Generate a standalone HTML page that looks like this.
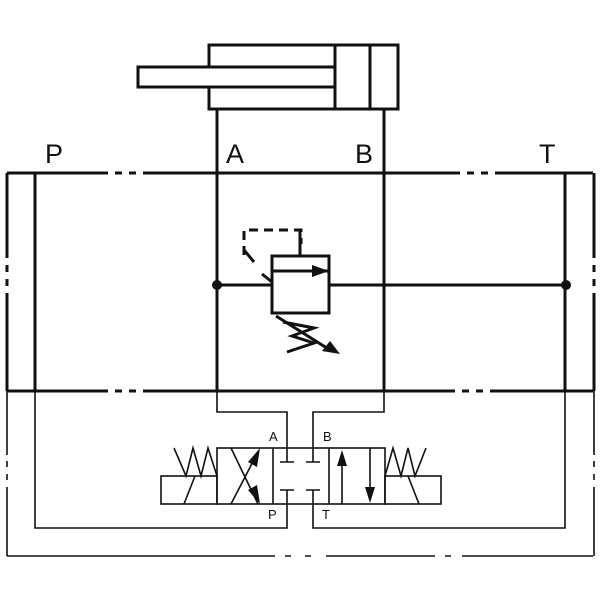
<!DOCTYPE html>
<html><head><meta charset="utf-8"><style>html,body{margin:0;padding:0;background:#fff}svg{display:block}text{font-family:"Liberation Sans",sans-serif;fill:#111}</style></head>
<body>
<svg width="600" height="600" viewBox="0 0 600 600" xmlns="http://www.w3.org/2000/svg">
<g stroke="#111" fill="none" stroke-width="3">
<!-- cylinder -->
<rect x="209" y="45" width="189" height="64"/>
<line x1="335" y1="45" x2="335" y2="109"/>
<line x1="370" y1="45" x2="370" y2="109"/>
<rect x="138" y="67" width="197" height="20" fill="#fff"/>
<line x1="217" y1="109" x2="217" y2="391"/>
<line x1="384" y1="109" x2="384" y2="391"/>
<!-- top line -->
<path d="M7 173 H108 M115 173 H122 M129 173 H136 M143 173 H460 M467 173 H474 M481 173 H488 M495 173 H593"/>
<path d="M7 391 H108 M115 391 H122 M129 391 H136 M143 391 H455 M462 391 H469 M476 391 H483 M490 391 H593"/>
<path d="M7 173 V258 M7 265 V272 M7 279 V286 M7 293 V391"/>
<path d="M594 173 V258 M594 265 V272 M594 279 V286 M594 293 V391"/>
<line x1="35" y1="173" x2="35" y2="391"/>
<line x1="565" y1="173" x2="565" y2="391"/>
<path d="M217 285 H272 M329 285 H566"/>
<!-- relief valve -->
<rect x="272" y="256" width="57" height="57"/>
<line x1="272" y1="271" x2="329" y2="271"/>
<path d="M300 230 V256" stroke-dasharray="0"/>
<path d="M244 255 V230 H301 V244" stroke-dasharray="9 6"/>
<line x1="244" y1="250" x2="254" y2="262"/>
<line x1="262" y1="274" x2="272" y2="282"/>
<path d="M283 322 L314 328 L292 336 L314 343 L287 352"/>
<line x1="276" y1="316" x2="330" y2="350"/>
</g>
<circle cx="217" cy="285" r="5" fill="#111"/>
<circle cx="566" cy="285" r="5" fill="#111"/>
<polygon points="329,271 312,265 312,277" fill="#111"/>
<polygon points="340,354 322,351 330,341" fill="#111"/>
<g stroke="#111" fill="none" stroke-width="1.6">
<path d="M7 391 V455 M7 461 V467 M7 474 V480 M7 487 V556"/>
<path d="M594 391 V455 M594 461 V467 M594 474 V480 M594 487 V556"/>
<path d="M7 556 H275 M285 556 H291 M305 556 H311 M326 556 H435 M445 556 H451 M462 556 H593"/>
<path d="M35 391 V528 H287 V490"/>
<path d="M565 391 V528 H313 V490"/>
<path d="M217 391 V412 H287 V462"/>
<path d="M384 391 V412 H313 V462"/>
<path d="M280 462 H294 M306 462 H320 M280 490 H294 M306 490 H320"/>
<rect x="217" y="448" width="168" height="56"/>
<line x1="273" y1="448" x2="273" y2="504"/>
<line x1="329" y1="448" x2="329" y2="504"/>
<rect x="161" y="476" width="56" height="28"/>
<rect x="385" y="476" width="56" height="28"/>
<line x1="184" y1="504" x2="195" y2="476"/>
<line x1="419" y1="504" x2="408" y2="476"/>
<path d="M174 448 L186 476 L193 448 L201 476 L208 448 L217 476"/>
<path d="M385 476 L393 448 L401 476 L408 448 L415 476 L426 448"/>
<line x1="231" y1="448" x2="258" y2="504"/>
<line x1="231" y1="504" x2="258" y2="452"/>
<line x1="342" y1="504" x2="342" y2="455"/>
<line x1="370" y1="448" x2="370" y2="497"/>
</g>
<polygon points="260,448 248,462 257,467" fill="#111"/>
<polygon points="260,504 248,490 257,485" fill="#111"/>
<polygon points="342,450 337,466 347,466" fill="#111"/>
<polygon points="370,503 365,487 375,487" fill="#111"/>
<text x="45" y="163" font-size="27">P</text>
<text x="226" y="163" font-size="27">A</text>
<text x="355" y="163" font-size="27">B</text>
<text x="539" y="163" font-size="27">T</text>
<text x="269" y="441" font-size="13">A</text>
<text x="323" y="441" font-size="13">B</text>
<text x="268" y="519" font-size="13">P</text>
<text x="322" y="519" font-size="13">T</text>
</svg>
</body></html>
